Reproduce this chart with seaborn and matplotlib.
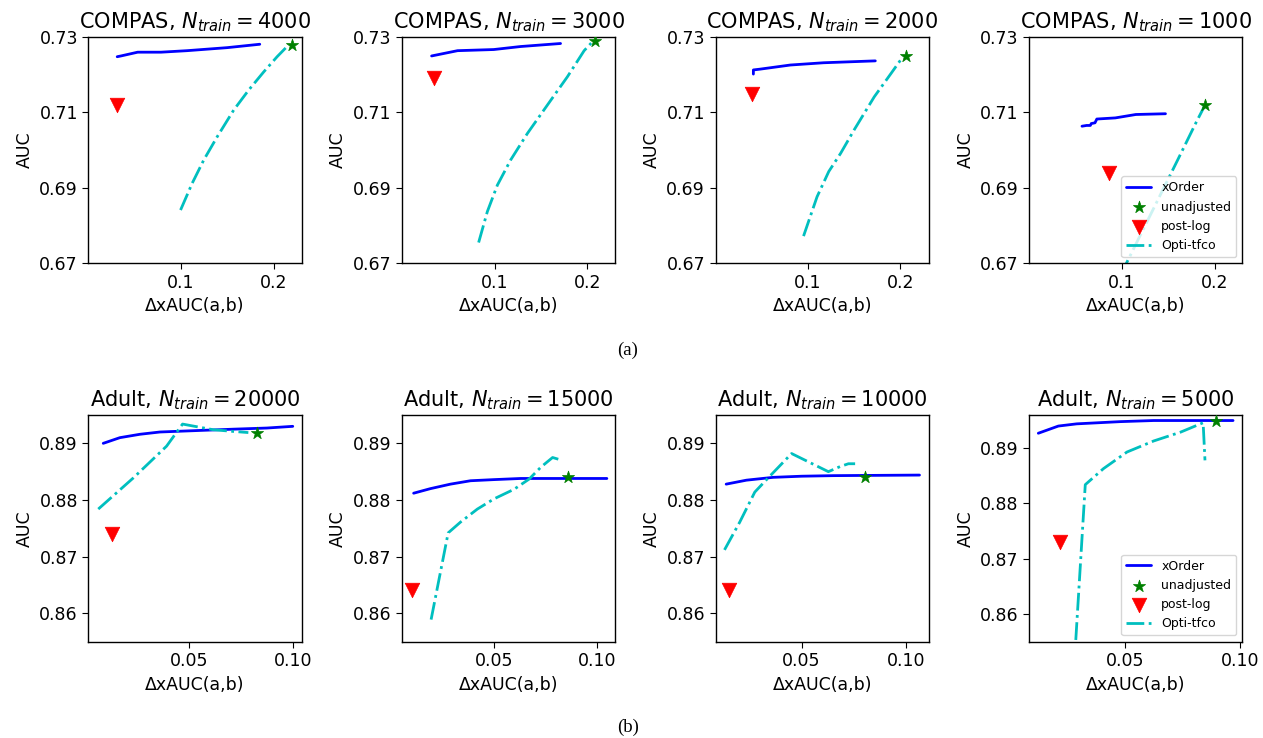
import numpy as np
import pandas as pd
import matplotlib
matplotlib.use("Agg")
import matplotlib.pyplot as plt
import seaborn as sns


# ---- COMPAS panels (top row) ----
compas_titles = ["COMPAS, $N_{train} = 4000$", "COMPAS, $N_{train} = 3000$",
                 "COMPAS, $N_{train} = 2000$", "COMPAS, $N_{train} = 1000$"]

compas_xorder_x = [
    [0.032, 0.036, 0.054, 0.079, 0.107, 0.150, 0.185],
    [0.032, 0.060, 0.099, 0.128, 0.171],
    [0.041, 0.041, 0.048, 0.081, 0.117, 0.173],
    [0.057, 0.062, 0.066, 0.067, 0.071, 0.073, 0.093, 0.115, 0.147],
]
compas_xorder_y = [
    [0.7247, 0.7249, 0.7259, 0.7259, 0.7263, 0.7271, 0.7280],
    [0.7249, 0.7263, 0.7266, 0.7274, 0.7282],
    [0.7201, 0.7212, 0.7214, 0.7225, 0.7231, 0.7236],
    [0.7063, 0.7065, 0.7065, 0.7070, 0.7072, 0.7082, 0.7085, 0.7094, 0.7096],
]
compas_unadj_x = [0.2196, 0.2083, 0.2066, 0.190]
compas_unadj_y = [0.7278, 0.7289, 0.7250, 0.712]
compas_postlog_x = [0.032, 0.0345, 0.040, 0.086]
compas_postlog_y = [0.7119, 0.7190, 0.7148, 0.694]
compas_opti_x = [
    [0.100, 0.1125, 0.125, 0.1393, 0.1571, 0.1732, 0.1893, 0.2036, 0.2143],
    [0.0827, 0.0921, 0.1029, 0.1173, 0.1353, 0.1568, 0.1784, 0.1964, 0.2040],
    [0.0953, 0.1099, 0.1226, 0.1354, 0.150, 0.1719, 0.1901, 0.2029],
    [0.098, 0.120, 0.140, 0.160, 0.180, 0.189],
]
compas_opti_y = [
    [0.6841, 0.6912, 0.6974, 0.7035, 0.7106, 0.7159, 0.7207, 0.7247, 0.7274],
    [0.6755, 0.6837, 0.6907, 0.6974, 0.7044, 0.7119, 0.7194, 0.7263, 0.7283],
    [0.6772, 0.6876, 0.6943, 0.6991, 0.7053, 0.7141, 0.7203, 0.7247],
    [0.6666, 0.6775, 0.6874, 0.6973, 0.7073, 0.7116],
]
compas_xlims = [(0.001, 0.23), (0.0, 0.23), (0.0, 0.231), (0.0, 0.23)]
compas_ylim = (0.67, 0.73)
compas_xticks = [0.1, 0.2]
compas_yticks = [0.67, 0.69, 0.71, 0.73]

# ---- Adult panels (bottom row) ----
adult_titles = ["Adult, $N_{train} = 20000$", "Adult, $N_{train} = 15000$",
                "Adult, $N_{train} = 10000$", "Adult, $N_{train} = 5000$"]

adult_xorder_x = [
    [0.0087, 0.0167, 0.0264, 0.0360, 0.0500, 0.0714, 0.0875, 0.1000],
    [0.0109, 0.0190, 0.0288, 0.0386, 0.0500, 0.0630, 0.0793, 0.1049],
    [0.0139, 0.0236, 0.0364, 0.0500, 0.0652, 0.1064],
    [0.0125, 0.0212, 0.0292, 0.0481, 0.0626, 0.0971],
]
adult_xorder_y = [
    [0.8900, 0.8910, 0.8916, 0.8920, 0.8922, 0.8925, 0.8927, 0.8930],
    [0.8812, 0.8820, 0.8828, 0.8834, 0.8836, 0.8838, 0.8838, 0.8838],
    [0.8828, 0.8835, 0.8840, 0.8842, 0.8843, 0.8844],
    [0.8927, 0.8940, 0.8944, 0.8948, 0.8950, 0.8950],
]
adult_unadj_x = [0.0830, 0.0858, 0.0801, 0.0898]
adult_unadj_y = [0.8919, 0.8840, 0.8840, 0.8950]
adult_postlog_x = [0.0127, 0.0101, 0.0152, 0.0221]
adult_postlog_y = [0.8740, 0.8642, 0.8642, 0.8731]
adult_opti_x = [
    [0.0063, 0.0232, 0.0392, 0.0469, 0.0513, 0.0617, 0.0714, 0.0786],
    [0.0194, 0.0277, 0.0337, 0.0419, 0.0500, 0.0598, 0.0671, 0.0728, 0.0785, 0.0822],
    [0.0131, 0.0204, 0.0276, 0.0340, 0.0452, 0.0540, 0.0628, 0.0684, 0.0724, 0.0756],
    [0.0280, 0.0329, 0.0408, 0.0510, 0.0626, 0.0743, 0.0841, 0.0849],
]
adult_opti_y = [
    [0.8784, 0.8839, 0.8895, 0.8934, 0.8931, 0.8924, 0.8921, 0.8919],
    [0.8589, 0.8742, 0.8761, 0.8784, 0.8802, 0.8819, 0.8837, 0.8858, 0.8875, 0.8871],
    [0.8712, 0.8761, 0.8814, 0.8839, 0.8882, 0.8866, 0.8850, 0.8859, 0.8864, 0.8864],
    [0.8500, 0.8834, 0.8863, 0.8893, 0.8913, 0.8929, 0.8946, 0.8878],
]
adult_xlims = [(0.0015, 0.1043), (0.0052, 0.1090), (0.0088, 0.1109), (0.0085, 0.1012)]
adult_ylims = [(0.855, 0.895), (0.855, 0.895), (0.855, 0.895), (0.855, 0.896)]
adult_xticks = [0.05, 0.10]
adult_xticklabels = ["0.05", "0.10"]
adult_yticks = [0.86, 0.87, 0.88, 0.89]


def draw_panel(ax, title, xo_x, xo_y, un_x, un_y, pl_x, pl_y, op_x, op_y):
    sns.lineplot(x=xo_x, y=xo_y, sort=False, estimator=None, color="b",
                 linewidth=2, label="xOrder", ax=ax)
    sns.scatterplot(x=[un_x], y=[un_y], marker="*", color="g", s=85,
                    edgecolor="g", linewidth=0.5, label="unadjusted", ax=ax, zorder=5)
    sns.scatterplot(x=[pl_x], y=[pl_y], marker="v", color="r", s=110,
                    edgecolor="r", linewidth=0.5, label="post-log", ax=ax, zorder=5)
    sns.lineplot(x=op_x, y=op_y, sort=False, estimator=None, color="c",
                 linewidth=2, linestyle="-.", label="Opti-tfco", ax=ax)
    ax.set_title(title, fontsize=15, color="black")
    ax.set_xlabel("ΔxAUC(a,b)", fontsize=12.5, color="black")
    ax.set_ylabel("AUC", fontsize=12.5, color="black")
    ax.tick_params(labelsize=12.5, direction="out", length=4,
                   color="black", labelcolor="black")
    for sp in ax.spines.values():
        sp.set_color("black")
        sp.set_linewidth(1.0)


sns.set_style("ticks")
plt.rcParams["font.family"] = ["DejaVu Sans"]
plt.rcParams["mathtext.fontset"] = "dejavusans"
plt.rcParams["text.color"] = "black"
plt.rcParams["axes.labelcolor"] = "black"

fig = plt.figure(figsize=(12.63, 7.38), dpi=100)

col_left = [88.3, 401.9, 715.5, 1029.1]
ax_w = 213.4
W, H = 1263.0, 738.0

for i in range(4):
    ax = fig.add_axes([col_left[i] / W, 1 - 263.3 / H, ax_w / W, 226.6 / H])
    draw_panel(ax, compas_titles[i], compas_xorder_x[i], compas_xorder_y[i],
               compas_unadj_x[i], compas_unadj_y[i],
               compas_postlog_x[i], compas_postlog_y[i],
               compas_opti_x[i], compas_opti_y[i])
    ax.set_xlim(*compas_xlims[i])
    ax.set_ylim(*compas_ylim)
    ax.set_xticks(compas_xticks)
    ax.set_yticks(compas_yticks)
    ax.set_yticklabels([f"{t:.2f}" for t in compas_yticks])
    if i == 3:
        ax.legend(loc="lower right", fontsize=9)
    else:
        ax.get_legend().remove()

for i in range(4):
    ax = fig.add_axes([col_left[i] / W, 1 - 641.7 / H, ax_w / W, 226.7 / H])
    draw_panel(ax, adult_titles[i], adult_xorder_x[i], adult_xorder_y[i],
               adult_unadj_x[i], adult_unadj_y[i],
               adult_postlog_x[i], adult_postlog_y[i],
               adult_opti_x[i], adult_opti_y[i])
    ax.set_xlim(*adult_xlims[i])
    ax.set_ylim(*adult_ylims[i])
    ax.set_xticks(adult_xticks)
    ax.set_xticklabels(adult_xticklabels)
    ax.set_yticks(adult_yticks)
    ax.set_yticklabels([f"{t:.2f}" for t in adult_yticks])
    if i == 3:
        ax.legend(loc="lower right", fontsize=9)
    else:
        ax.get_legend().remove()

fig.text(628 / W, 1 - 350 / H, "(a)", ha="center", va="center",
         fontsize=13.5, family=["Liberation Serif", "DejaVu Serif"])
fig.text(628 / W, 1 - 727 / H, "(b)", ha="center", va="center",
         fontsize=13.5, family=["Liberation Serif", "DejaVu Serif"])

fig.savefig("out.png", dpi=100)
plt.close(fig)
